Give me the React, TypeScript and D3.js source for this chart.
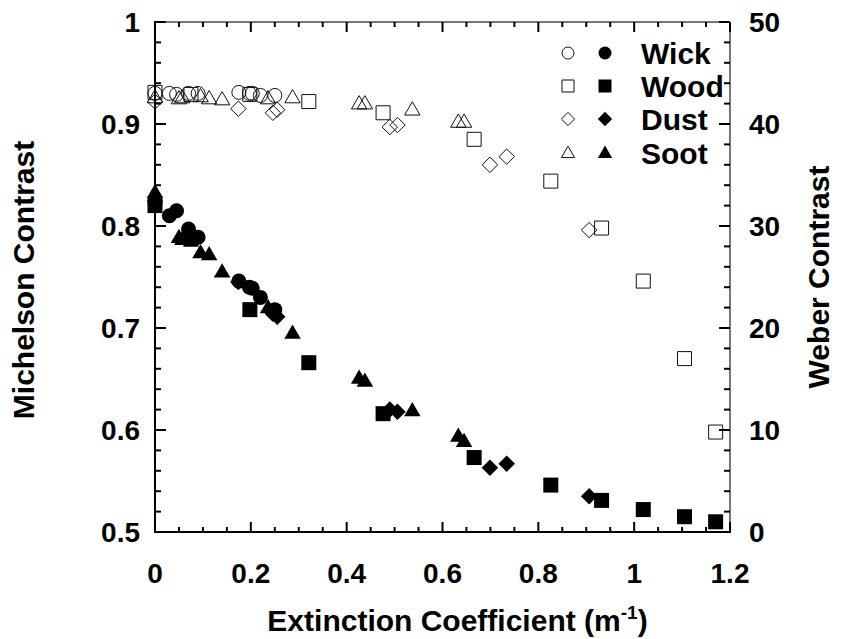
import React from 'react';
import * as d3 from 'd3';

// ---------- data ----------
const wickX = [0.0, 0.03, 0.045, 0.07, 0.09, 0.175, 0.197, 0.203, 0.22, 0.25];
const wickMichelson = [0.822, 0.81, 0.815, 0.797, 0.789, 0.746, 0.74, 0.739, 0.73, 0.718];
const wickWeber = [43.0, 43.0, 42.9, 43.0, 43.0, 43.1, 43.0, 43.0, 42.8, 42.8];

const woodX = [0.0, 0.075, 0.198, 0.321, 0.476, 0.666, 0.826, 0.932, 1.019, 1.105, 1.17];
const woodMichelson = [0.82, 0.787, 0.718, 0.666, 0.616, 0.573, 0.546, 0.531, 0.522, 0.515, 0.51];
const woodWeber = [43.1, 42.9, 42.9, 42.2, 41.1, 38.5, 34.4, 29.8, 24.6, 17.0, 9.8];

const dustX = [0.0, 0.174, 0.246, 0.255, 0.49, 0.506, 0.699, 0.734, 0.906];
const dustMichelson = [0.825, 0.745, 0.714, 0.711, 0.62, 0.618, 0.563, 0.567, 0.535];
const dustWeber = [42.2, 41.5, 41.1, 41.4, 39.7, 39.9, 36.0, 36.8, 29.6];

const sootX = [0.0, 0.05, 0.057, 0.095, 0.113, 0.14, 0.236, 0.287, 0.426, 0.438, 0.537, 0.633, 0.645];
const sootMichelson = [0.833, 0.789, 0.787, 0.774, 0.772, 0.755, 0.72, 0.695, 0.651, 0.648, 0.619, 0.594, 0.589];
const sootWeber = [42.6, 42.5, 42.6, 42.7, 42.5, 42.4, 42.5, 42.6, 42.0, 42.0, 41.4, 40.2, 40.2];

const seriesNames = ['Wick', 'Wood', 'Dust', 'Soot'];
const seriesShapes = ['circle', 'square', 'diamond', 'triangle'];

const xTickValues = [0, 0.2, 0.4, 0.6, 0.8, 1, 1.2];
const leftTickValues = [0.5, 0.6, 0.7, 0.8, 0.9, 1];
const rightTickValues = [0, 10, 20, 30, 40, 50];

const xLabel = 'Extinction Coefficient (m';
const leftLabel = 'Michelson Contrast';
const rightLabel = 'Weber Contrast';

// ---------- layout ----------
const W = 843;
const H = 639;
const L = 155, R = 730, T = 22, B = 532;
const FONT = "'Liberation Sans', Arial, Helvetica, sans-serif";

const x = d3.scaleLinear().domain([0, 1.2]).range([L, R]);
const yL = d3.scaleLinear().domain([0.5, 1]).range([B, T]);
const yR = d3.scaleLinear().domain([0, 50]).range([B, T]);

function markerPath(kind: string, cx: number, cy: number, s: number): string {
  const p = d3.path();
  if (kind === 'circle') {
    p.moveTo(cx + s, cy);
    p.arc(cx, cy, s, 0, Math.PI * 2);
  } else if (kind === 'square') {
    p.rect(cx - s, cy - s, 2 * s, 2 * s);
  } else if (kind === 'diamond') {
    const d = s * 1.1;
    p.moveTo(cx, cy - d);
    p.lineTo(cx + d, cy);
    p.lineTo(cx, cy + d);
    p.lineTo(cx - d, cy);
  } else {
    const hw = s * 1.1;
    const h = s * 1.9;
    p.moveTo(cx, cy - h * 0.6);
    p.lineTo(cx + hw, cy + h * 0.4);
    p.lineTo(cx - hw, cy + h * 0.4);
  }
  p.closePath();
  return p.toString();
}

const datasets = [
  { xs: wickX, m: wickMichelson, w: wickWeber },
  { xs: woodX, m: woodMichelson, w: woodWeber },
  { xs: dustX, m: dustMichelson, w: dustWeber },
  { xs: sootX, m: sootMichelson, w: sootWeber },
];

const fmtX = (v: number) => (v === 0 ? '0' : v === 1 ? '1' : String(v));

export default function App() {
  const xMinor = d3.range(0, 1.2001, 0.05);
  const lMinor = d3.range(0.5, 1.0001, 0.02);
  const rMinor = d3.range(0, 50.001, 2);
  const isMajorX = (v: number) => Math.abs(v / 0.2 - Math.round(v / 0.2)) < 1e-6;
  const isMajorL = (v: number) => Math.abs(v / 0.1 - Math.round(v / 0.1)) < 1e-6;
  const isMajorR = (v: number) => Math.abs(v / 10 - Math.round(v / 10)) < 1e-6;

  const legendY = [53, 86, 119, 153];

  return (
    <svg
      width={W}
      height={H}
      style={{ position: 'absolute', left: 0, top: 0, background: '#fff' }}
      fontFamily={FONT}
    >
      <rect x={0} y={0} width={W} height={H} fill="#fff" />

      {/* open markers (Weber, right axis) */}
      {datasets.map((ds, i) => (
        <g key={'o' + i}>
          {ds.xs.map((xv, j) => (
            <path
              key={j}
              d={markerPath(seriesShapes[i], x(xv), yR(ds.w[j]), 7)}
              fill="none"
              stroke="#111"
              strokeWidth={1}
            />
          ))}
        </g>
      ))}

      {/* filled markers (Michelson, left axis) */}
      {datasets.map((ds, i) => (
        <g key={'f' + i}>
          {ds.xs.map((xv, j) => (
            <path
              key={j}
              d={markerPath(seriesShapes[i], x(xv), yL(ds.m[j]), 7.5)}
              fill="#000"
              stroke="none"
            />
          ))}
        </g>
      ))}

      {/* frame */}
      <line x1={L} x2={R} y1={T} y2={T} stroke="#777" strokeWidth={2} />
      <line x1={R} x2={R} y1={T} y2={B} stroke="#777" strokeWidth={2} />
      <line x1={L} x2={L} y1={T - 1} y2={B + 1} stroke="#000" strokeWidth={2} />
      <line x1={L - 1} x2={R + 1} y1={B} y2={B} stroke="#000" strokeWidth={2} />

      {/* x ticks bottom & top */}
      {xMinor.map((v, i) => {
        const len = isMajorX(v) ? 10 : 5;
        return (
          <g key={'xt' + i}>
            <line x1={x(v)} x2={x(v)} y1={B} y2={B - len} stroke="#000" strokeWidth={2} />
            <line x1={x(v)} x2={x(v)} y1={T} y2={T + len} stroke="#000" strokeWidth={2} />
          </g>
        );
      })}
      {/* left ticks */}
      {lMinor.map((v, i) => {
        const len = isMajorL(v) ? 11 : 6;
        return <line key={'lt' + i} x1={L} x2={L + len} y1={yL(v)} y2={yL(v)} stroke="#000" strokeWidth={2} />;
      })}
      {/* right ticks */}
      {rMinor.map((v, i) => {
        const len = isMajorR(v) ? 11 : 6;
        return <line key={'rt' + i} x1={R} x2={R - len} y1={yR(v)} y2={yR(v)} stroke="#000" strokeWidth={2} />;
      })}

      {/* tick labels */}
      {xTickValues.map((v, i) => (
        <text key={'xl' + i} x={x(v)} y={573} textAnchor="middle" dy="0.35em" fontSize={28} fontWeight="bold">
          {fmtX(v)}
        </text>
      ))}
      {leftTickValues.map((v, i) => (
        <text key={'ll' + i} x={L - 15} y={yL(v)} textAnchor="end" dy="0.35em" fontSize={28} fontWeight="bold">
          {v === 1 ? '1' : String(v)}
        </text>
      ))}
      {rightTickValues.map((v, i) => (
        <text key={'rl' + i} x={R + 19} y={yR(v)} textAnchor="start" dy="0.35em" fontSize={28} fontWeight="bold">
          {String(v)}
        </text>
      ))}

      {/* axis titles */}
      <text x={(L + R) / 2 + 15} y={620} textAnchor="middle" dy="0.35em" fontSize={30} fontWeight="bold">
        {xLabel}
        <tspan dy={-12} fontSize={19}>-1</tspan>
        <tspan dy={12}>)</tspan>
      </text>
      <text
        transform={`translate(23, ${(T + B) / 2 + 3}) rotate(-90)`}
        textAnchor="middle"
        dy="0.35em"
        fontSize={30}
        fontWeight="bold"
      >
        {leftLabel}
      </text>
      <text
        transform={`translate(818, ${(T + B) / 2}) rotate(-90)`}
        textAnchor="middle"
        dy="0.35em"
        fontSize={30}
        fontWeight="bold"
      >
        {rightLabel}
      </text>

      {/* legend */}
      {seriesNames.map((name, i) => (
        <g key={'lg' + i}>
          <path d={markerPath(seriesShapes[i], 568, legendY[i], 6)} fill="none" stroke="#111" strokeWidth={1} />
          <path d={markerPath(seriesShapes[i], 605, legendY[i], 6.5)} fill="#000" />
          <text x={641} y={legendY[i]} dy="0.36em" fontSize={30} fontWeight="bold">
            {name}
          </text>
        </g>
      ))}
    </svg>
  );
}
